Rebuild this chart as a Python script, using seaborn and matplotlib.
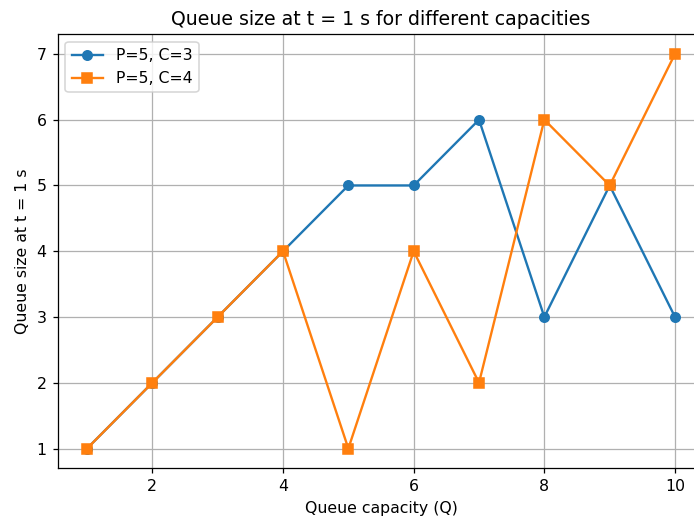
import matplotlib
matplotlib.use('Agg')
import matplotlib.pyplot as plt
import seaborn as sns
import pandas as pd

capacity = [1, 2, 3, 4, 5, 6, 7, 8, 9, 10]
queue_c3 = [1, 2, 3, 4, 5, 5, 6, 3, 5, 3]
queue_c4 = [1, 2, 3, 4, 1, 4, 2, 6, 5, 7]

df = pd.DataFrame({'Q': capacity, 'C3': queue_c3, 'C4': queue_c4})

dpi = 113
fig, ax = plt.subplots(figsize=(694 / dpi, 518 / dpi), dpi=dpi)
sns.lineplot(x='Q', y='C3', data=df, marker='o', markersize=6, markeredgewidth=1,
             markeredgecolor='#1f77b4', color='#1f77b4', linewidth=1.5,
             label='P=5, C=3', ax=ax)
sns.lineplot(x='Q', y='C4', data=df, marker='s', markersize=6, markeredgewidth=1,
             markeredgecolor='#ff7f0e', color='#ff7f0e', linewidth=1.5,
             label='P=5, C=4', ax=ax)

ax.set_title('Queue size at t = 1 s for different capacities')
ax.set_xlabel('Queue capacity (Q)')
ax.set_ylabel('Queue size at t = 1 s')
ax.grid(True)
ax.legend(loc='upper left')

# the reference image is cropped on the right edge
fig.subplots_adjust(left=0.083, right=1.015, top=0.934, bottom=0.096)
plt.savefig('out.png', dpi=dpi)
